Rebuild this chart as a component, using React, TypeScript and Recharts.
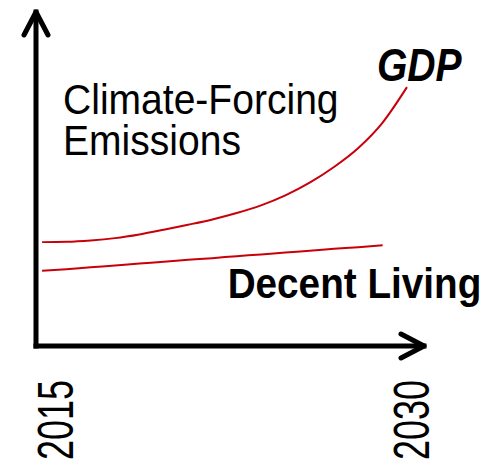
import React from 'react';
import { LineChart, Line, XAxis, YAxis } from 'recharts';

// conceptual chart: GDP vs emissions for decent living
const years = [2015, 2016, 2017, 2018, 2019, 2020, 2021, 2022, 2023, 2024, 2025, 2026, 2027, 2028, 2029, 2030];
const gdp = [31.1, 31.2, 31.6, 32.3, 33.4, 34.8, 36.3, 37.9, 39.8, 42.1, 45.1, 48.9, 53.6, 59.3, 66.9, 77.5];
const decentLiving = [22.5, 23.0, 23.6, 24.1, 24.7, 25.2, 25.8, 26.3, 26.9, 27.4, 28.0, 28.5, 29.1, 29.6, 30.2, null];
const yearTicks = [2015, 2030];
const yTitle = ['Climate-Forcing', 'Emissions'];

const data = years.map((year, i) => ({ year, gdp: gdp[i], decent: decentLiving[i] }));

// Arial-like font, squeezed sideways to look like a narrow face
const FONT = "'Liberation Sans', Arial, sans-serif";
const RED = '#c8000a';

function YearTick(props: { x?: number; y?: number; index?: number; payload?: { value: number } }) {
  const { x = 0, index = 0, payload } = props;
  const bx = x + (index === 0 ? 31 : 22);
  const by = 460;
  return (
    <text
      transform={`translate(${bx}, ${by}) rotate(-90) scale(0.72, 1)`}
      textAnchor="start"
      fontFamily={FONT}
      fontSize={50}
      fill="#000"
    >
      {payload?.value}
    </text>
  );
}

function TitleLabel(props: { viewBox?: { x: number; y: number; width: number } }) {
  const vb = props.viewBox;
  if (!vb) return null;
  const x = vb.x + vb.width + 27;
  return (
    <text
      transform={`translate(${x}, ${vb.y + 102}) scale(0.93, 1)`}
      fontFamily={FONT}
      fontSize={42}
      fill="#000"
    >
      {yTitle.map((t, i) => (
        <tspan key={t} x={0} dy={i === 0 ? 0 : 41}>
          {t}
        </tspan>
      ))}
    </text>
  );
}

function EndLabel(props: {
  x?: number;
  y?: number;
  index?: number;
  text: string;
  dx: number;
  dy: number;
  size: number;
  sx: number;
  italic?: boolean;
  last: number;
}) {
  const { x, y, index, text, dx, dy, size, sx, italic, last } = props;
  if (index !== last || x === undefined || y === undefined) return null;
  return (
    <text
      transform={`translate(${x + dx}, ${y + dy}) scale(${sx}, 1)`}
      fontFamily={FONT}
      fontSize={size}
      fontWeight="bold"
      fontStyle={italic ? 'italic' : 'normal'}
      fill="#000"
    >
      {text}
    </text>
  );
}

export default function App() {
  return (
    <div style={{ position: 'absolute', left: 0, top: 0, background: '#fff' }}>
      <LineChart width={495} height={466} data={data} margin={{ top: 12, right: 71, left: 16, bottom: 10 }}>
        <defs>
          <marker
            id="axisArrow"
            viewBox="-30 -16 34 32"
            refX={0}
            refY={0}
            markerWidth={34}
            markerHeight={32}
            markerUnits="userSpaceOnUse"
            orient="auto-start-reverse"
          >
            <path d="M -23 -12 L 0 0 L -23 12" fill="none" stroke="#000" strokeWidth={5} strokeLinecap="round" strokeLinejoin="round" />
          </marker>
        </defs>
        <XAxis
          dataKey="year"
          type="number"
          domain={[2014.75, 2030.7]}
          ticks={yearTicks}
          height={110}
          tickLine={false}
          tick={<YearTick />}
          axisLine={{ stroke: '#000', strokeWidth: 5, strokeLinecap: 'square', markerEnd: 'url(#axisArrow)' }}
        />
        <YAxis
          type="number"
          domain={[0, 100]}
          width={20}
          tick={false}
          tickLine={false}
          axisLine={{ stroke: '#000', strokeWidth: 5, strokeLinecap: 'square', markerStart: 'url(#axisArrow)' }}
          label={<TitleLabel />}
        />
        <Line
          type="monotone"
          dataKey="gdp"
          stroke={RED}
          strokeWidth={2}
          dot={false}
          isAnimationActive={false}
          label={<EndLabel text="GDP" dx={-30} dy={-6} size={46} sx={0.85} italic last={years.length - 1} />}
        />
        <Line
          type="monotone"
          dataKey="decent"
          stroke={RED}
          strokeWidth={2}
          dot={false}
          isAnimationActive={false}
          label={<EndLabel text="Decent Living" dx={-155} dy={53} size={43} sx={0.9} last={years.length - 2} />}
        />
      </LineChart>
    </div>
  );
}
